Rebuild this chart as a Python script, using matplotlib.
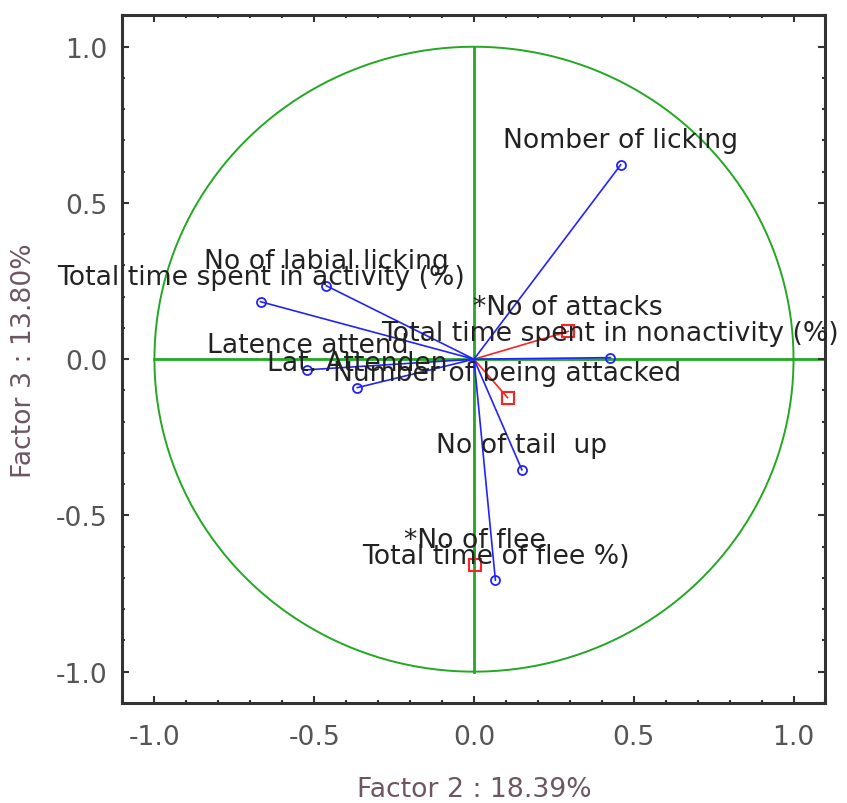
import matplotlib
matplotlib.use("Agg")
import matplotlib.pyplot as plt
import numpy as np
from matplotlib.ticker import MultipleLocator, FormatStrFormatter

# Active variables (blue) - coordinates on factor 2 / factor 3
active_names = ["Nomber of licking", "Total time spent in activity (%)",
                "No of labial licking", "Latence attend", "Lat. Attenden",
                "Total time spent in nonactivity (%)", "No of tail  up",
                "Total time of flee %)"]
active_f2 = [0.459, -0.668, -0.462, -0.521, -0.365, 0.427, 0.150, 0.067]
active_f3 = [0.622, 0.184, 0.235, -0.034, -0.091, 0.005, -0.354, -0.707]

# Supplementary variables (red)
supp_names = ["*No of attacks", "Number of being attacked", "*No of flee"]
supp_f2 = [0.295, 0.105, 0.002]
supp_f3 = [0.089, -0.123, -0.658]

green = "#22a822"
blue = "#2222ff"
red = "#ff2222"
dark = "#333333"
fs = 19.2

fig = plt.figure(figsize=(8.47, 8.04), dpi=100)
ax = fig.add_axes([0.1446, 0.1245, 0.8300, 0.8550])
ax.set_xlim(-1.1, 1.1)
ax.set_ylim(-1.1, 1.1)

# unit circle and axes through the origin
t = np.linspace(0, 2 * np.pi, 400)
ax.plot(np.cos(t), np.sin(t), color=green, lw=1.4, zorder=1)
ax.plot([-1.0, 1.1], [0, 0], color=green, lw=2.0, zorder=1.5)
ax.plot([0, 0], [-1.0, 1.0], color=green, lw=2.0, zorder=1.5)

for name, x, y in zip(active_names, active_f2, active_f3):
    ax.plot([0, x], [0, y], color=blue, lw=1.2, zorder=2)
    ax.plot(x, y, marker="o", ms=6.5, mfc="none", mec=blue, mew=1.3, zorder=3)
    ax.annotate(name, (x, y), xytext=(0, 12.5), textcoords="offset points",
                ha="center", va="baseline", fontsize=fs, color="#222222",
                zorder=4)

for name, x, y in zip(supp_names, supp_f2, supp_f3):
    ax.plot([0, x], [0, y], color=red, lw=1.2, zorder=1.2)
    ax.plot(x, y, marker="s", ms=8.5, mfc="none", mec=red, mew=1.5, zorder=3)
    ax.annotate(name, (x, y), xytext=(0, 12.5), textcoords="offset points",
                ha="center", va="baseline", fontsize=fs, color="#222222",
                zorder=4)

ax.set_xticks([-1.0, -0.5, 0.0, 0.5, 1.0])
ax.set_yticks([-1.0, -0.5, 0.0, 0.5, 1.0])
ax.xaxis.set_minor_locator(MultipleLocator(0.1))
ax.yaxis.set_minor_locator(MultipleLocator(0.1))
ax.xaxis.set_major_formatter(FormatStrFormatter("%.1f"))
ax.yaxis.set_major_formatter(FormatStrFormatter("%.1f"))

ax.tick_params(which="both", direction="in", top=True, right=True,
               color=dark, labelcolor="#555555", labelsize=fs)
ax.tick_params(which="major", length=5, width=1.5)
ax.tick_params(which="minor", length=2.5, width=1.5)
ax.tick_params(axis="x", pad=15)
ax.tick_params(axis="y", pad=11)

for sp in ax.spines.values():
    sp.set_color(dark)
    sp.set_linewidth(2.2)

ax.set_xlabel("Factor 2 : 18.39%", fontsize=fs, color="#6e5563", labelpad=19)
ax.set_ylabel("Factor 3 : 13.80%", fontsize=fs, color="#6e5563", labelpad=13)

fig.savefig("out.png", dpi=100)
